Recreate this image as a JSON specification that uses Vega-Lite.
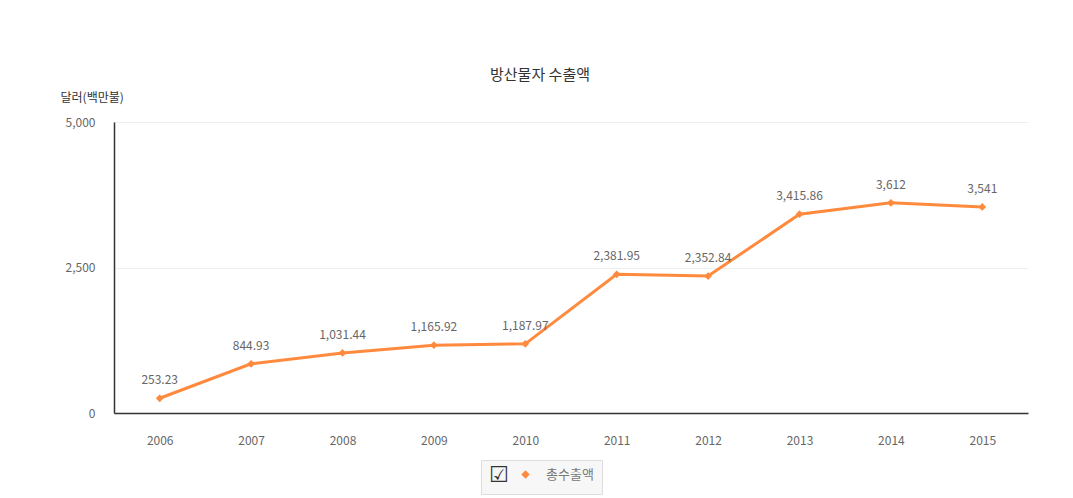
{
  "$schema": "https://vega.github.io/schema/vega-lite/v6.json",
  "width": 914,
  "height": 291,
  "autosize": {"type": "none"},
  "padding": {"left": 114, "top": 122, "right": 45, "bottom": 85},
  "background": "white",
  "config": {
    "font": "Noto Sans CJK KR",
    "view": {"stroke": null}
  },
  "title": {
    "text": "방산물자 수출액",
    "fontSize": 15,
    "fontWeight": "normal",
    "color": "#333333",
    "anchor": "middle",
    "dx": -31,
    "offset": 8
  },
  "data": {
    "values": [
      {"year": "2006", "value": 253.23, "series": "총수출액"},
      {"year": "2007", "value": 844.93, "series": "총수출액"},
      {"year": "2008", "value": 1031.44, "series": "총수출액"},
      {"year": "2009", "value": 1165.92, "series": "총수출액"},
      {"year": "2010", "value": 1187.97, "series": "총수출액"},
      {"year": "2011", "value": 2381.95, "series": "총수출액"},
      {"year": "2012", "value": 2352.84, "series": "총수출액"},
      {"year": "2013", "value": 3415.86, "series": "총수출액"},
      {"year": "2014", "value": 3612, "series": "총수출액"},
      {"year": "2015", "value": 3541, "series": "총수출액"}
    ]
  },
  "encoding": {
    "x": {
      "field": "year",
      "type": "ordinal",
      "scale": {"type": "point", "padding": 0.5},
      "axis": {
        "title": null,
        "labelAngle": 0,
        "ticks": false,
        "labelPadding": 22,
        "labelFontSize": 12,
        "labelColor": "#666666",
        "domainColor": "#333333",
        "domainWidth": 1.5,
        "grid": false
      }
    },
    "y": {
      "field": "value",
      "type": "quantitative",
      "scale": {"domain": [0, 5000]},
      "axis": {
        "values": [0, 2500, 5000],
        "format": ",d",
        "ticks": false,
        "labelPadding": 19,
        "labelFontSize": 12,
        "labelColor": "#666666",
        "domainColor": "#333333",
        "domainWidth": 1.5,
        "gridColor": "#eeeeee",
        "title": "달러(백만불)",
        "titleAngle": 0,
        "titleAlign": "left",
        "titleBaseline": "middle",
        "titleX": -54,
        "titleY": -25,
        "titleFontSize": 12,
        "titleFontWeight": "normal",
        "titleColor": "#333333"
      }
    },
    "color": {
      "field": "series",
      "type": "nominal",
      "scale": {"range": ["#ff8a3d"]},
      "legend": {
        "title": "☑",
        "titleOrient": "left",
        "titleFont": "DejaVu Sans",
        "titleFontSize": 22,
        "titleFontWeight": "bold",
        "titleColor": "#333333",
        "titlePadding": 10,
        "orient": "none",
        "legendX": 367,
        "legendY": 338,
        "padding": 8,
        "strokeColor": "#dddddd",
        "fillColor": "#f7f7f7",
        "symbolType": "diamond",
        "symbolSize": 40,
        "labelFontSize": 13,
        "labelColor": "#777777",
        "labelOffset": 14
      }
    }
  },
  "layer": [
    {
      "mark": {"type": "line", "strokeWidth": 3}
    },
    {
      "mark": {"type": "point", "shape": "diamond", "filled": true, "size": 60, "opacity": 1}
    },
    {
      "mark": {"type": "text", "dy": -18, "fontSize": 12, "color": "#666666"},
      "encoding": {
        "color": {"value": "#666666"},
        "text": {"field": "value", "type": "quantitative", "format": ",.2~f"}
      }
    }
  ]
}
